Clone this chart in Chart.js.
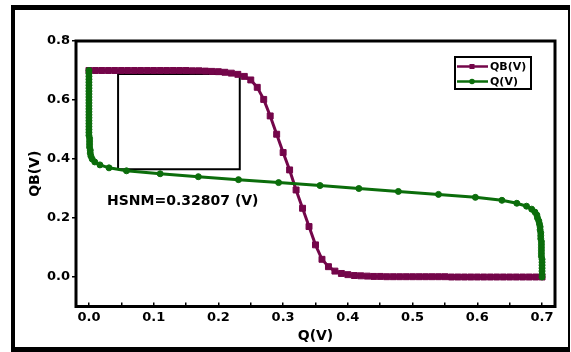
<!DOCTYPE html>
<html>
<head>
<meta charset="utf-8">
<script src="https://cdn.jsdelivr.net/npm/chart.js@4.4.0/dist/chart.umd.min.js"></script>
<style>
  html, body { margin: 0; padding: 0; background: #fff; }
  #wrap { position: relative; width: 571px; height: 352px; }
  #frame {
    position: absolute; left: 11px; top: 5px; width: 559px; height: 347px;
    box-sizing: border-box; pointer-events: none;
    border-left: 4px solid #000; border-top: 5px solid #000;
    border-right: 2px solid #000; border-bottom: 5px solid #000;
  }
</style>
</head>
<body>
<div id="wrap">
  <canvas id="vtcChart" width="571" height="352"></canvas>
  <div id="frame"></div>
</div>
<script>
// QB(V) curve: QB read at each Q step
const qbCurveQ = [
  0.00, 0.01, 0.02, 0.03, 0.04, 0.05, 0.06, 0.07, 0.08, 0.09,
  0.10, 0.11, 0.12, 0.13, 0.14, 0.15, 0.16, 0.17, 0.18, 0.19,
  0.20, 0.21, 0.22, 0.23, 0.24, 0.25, 0.26, 0.27, 0.28, 0.29,
  0.30, 0.31, 0.32, 0.33, 0.34, 0.35, 0.36, 0.37, 0.38, 0.39,
  0.40, 0.41, 0.42, 0.43, 0.44, 0.45, 0.46, 0.47, 0.48, 0.49,
  0.50, 0.51, 0.52, 0.53, 0.54, 0.55, 0.56, 0.57, 0.58, 0.59,
  0.60, 0.61, 0.62, 0.63, 0.64, 0.65, 0.66, 0.67, 0.68, 0.69,
  0.70
];
const qbCurveQB = [
  0.700, 0.700, 0.700, 0.700, 0.700, 0.700, 0.700, 0.700, 0.700, 0.700,
  0.700, 0.700, 0.700, 0.700, 0.700, 0.700, 0.699, 0.699, 0.698, 0.697,
  0.696, 0.694, 0.691, 0.687, 0.680, 0.668, 0.643, 0.602, 0.546, 0.484,
  0.422, 0.363, 0.295, 0.233, 0.171, 0.109, 0.060, 0.035, 0.020, 0.012,
  0.008, 0.005, 0.004, 0.003, 0.002, 0.002, 0.001, 0.001, 0.001, 0.001,
  0.001, 0.001, 0.001, 0.001, 0.001, 0.001, 0.000, 0.000, 0.000, 0.000,
  0.000, 0.000, 0.000, 0.000, 0.000, 0.000, 0.000, 0.000, 0.000, 0.000,
  0.000
];

// Q(V) curve: Q read at each QB step
const qCurveQB = [
  0.70, 0.69, 0.68, 0.67, 0.66, 0.65, 0.64, 0.63, 0.62, 0.61,
  0.60, 0.59, 0.58, 0.57, 0.56, 0.55, 0.54, 0.53, 0.52, 0.51,
  0.50, 0.49, 0.48, 0.47, 0.46, 0.45, 0.44, 0.43, 0.42, 0.41,
  0.40, 0.39, 0.38, 0.37, 0.36, 0.35, 0.34, 0.33, 0.32, 0.31,
  0.30, 0.29, 0.28, 0.27, 0.26, 0.25, 0.24, 0.23, 0.22, 0.21,
  0.20, 0.19, 0.18, 0.17, 0.16, 0.15, 0.14, 0.13, 0.12, 0.11,
  0.10, 0.09, 0.08, 0.07, 0.06, 0.05, 0.04, 0.03, 0.02, 0.01,
  0.00
];
const qCurveQ = [
  0.000, 0.000, 0.000, 0.000, 0.000, 0.000, 0.000, 0.000, 0.000, 0.000,
  0.000, 0.000, 0.000, 0.000, 0.000, 0.000, 0.000, 0.000, 0.000, 0.000,
  0.000, 0.000, 0.000, 0.001, 0.001, 0.001, 0.001, 0.002, 0.002, 0.003,
  0.005, 0.009, 0.017, 0.031, 0.058, 0.110, 0.169, 0.231, 0.293, 0.357,
  0.417, 0.478, 0.540, 0.597, 0.638, 0.661, 0.676, 0.684, 0.689, 0.692,
  0.693, 0.695, 0.696, 0.697, 0.697, 0.698, 0.698, 0.698, 0.699, 0.699,
  0.699, 0.699, 0.699, 0.699, 0.700, 0.700, 0.700, 0.700, 0.700, 0.700,
  0.700
];

// drawn square and note
const boxQ = [0.045, 0.233];
const boxQB = [0.365, 0.688];
const noteText = 'HSNM=0.32807 (V)';
const noteAt = [0.028, 0.255];

const xTicks = ['0.0', '0.1', '0.2', '0.3', '0.4', '0.5', '0.6', '0.7'];
const yTicks = ['0.0', '0.2', '0.4', '0.6', '0.8'];

const maroon = '#74064a';
const green = '#0b6d0b';
const fontFamily = '"DejaVu Sans", Verdana, sans-serif';

function toPoints(xs, ys) {
  return xs.map((v, i) => ({ x: v, y: ys[i] }));
}

const boxPath = [
  { x: boxQ[0], y: boxQB[0] }, { x: boxQ[1], y: boxQB[0] },
  { x: boxQ[1], y: boxQB[1] }, { x: boxQ[0], y: boxQB[1] },
  { x: boxQ[0], y: boxQB[0] }
];

const decor = {
  id: 'decor',
  afterDraw(chart) {
    const { ctx, chartArea: a, scales: { x, y } } = chart;
    ctx.save();

    // plot frame
    ctx.strokeStyle = '#000';
    ctx.lineWidth = 3;
    ctx.strokeRect(a.left, a.top, a.right - a.left, a.bottom - a.top);

    // note
    ctx.fillStyle = '#000';
    ctx.font = 'bold 14px ' + fontFamily;
    ctx.textBaseline = 'middle';
    ctx.textAlign = 'left';
    ctx.fillText(noteText, x.getPixelForValue(noteAt[0]), y.getPixelForValue(noteAt[1]));

    // legend
    const bx = a.right - 100, by = a.top + 16, bw = 76, bh = 32;
    ctx.lineWidth = 2;
    ctx.strokeRect(bx, by, bw, bh);
    const rows = [
      { text: 'QB(V)', color: maroon, square: true, y: by + 9.5 },
      { text: 'Q(V)', color: green, square: false, y: by + 24.5 }
    ];
    ctx.font = 'bold 11px ' + fontFamily;
    rows.forEach(r => {
      ctx.strokeStyle = r.color;
      ctx.fillStyle = r.color;
      ctx.lineWidth = 2.5;
      ctx.beginPath();
      ctx.moveTo(bx + 2, r.y);
      ctx.lineTo(bx + 33, r.y);
      ctx.stroke();
      if (r.square) {
        ctx.fillRect(bx + 14.5, r.y - 2.5, 5, 5);
      } else {
        ctx.beginPath();
        ctx.arc(bx + 17, r.y, 2.8, 0, Math.PI * 2);
        ctx.fill();
      }
      ctx.fillStyle = '#000';
      ctx.fillText(r.text, bx + 35, r.y + 0.5);
    });
    ctx.restore();
  }
};

const tickFont = { family: fontFamily, size: 13, weight: 'bold' };
const titleFont = { family: fontFamily, size: 14, weight: 'bold' };

function isMajor(v, step) {
  return Math.abs(v / step - Math.round(v / step)) < 1e-6;
}
function label(v) {
  return (Math.abs(v) < 1e-9 ? 0 : v).toFixed(1);
}

new Chart(document.getElementById('vtcChart').getContext('2d'), {
  type: 'scatter',
  data: {
    datasets: [
      {
        label: 'Q(V)',
        data: toPoints(qCurveQ, qCurveQB),
        showLine: true,
        borderColor: green,
        backgroundColor: green,
        borderWidth: 3,
        pointStyle: 'circle',
        pointRadius: 3,
        pointBorderWidth: 1
      },
      {
        label: 'QB(V)',
        data: toPoints(qbCurveQ, qbCurveQB),
        showLine: true,
        borderColor: maroon,
        backgroundColor: maroon,
        borderWidth: 3,
        pointStyle: 'rect',
        pointRadius: 4.2,
        pointBorderWidth: 1
      },
      {
        label: 'box',
        data: boxPath,
        showLine: true,
        borderColor: '#000',
        borderWidth: 2,
        pointRadius: 0
      }
    ]
  },
  options: {
    responsive: false,
    animation: false,
    layout: { padding: { left: 0, top: 41, right: 16, bottom: 0 } },
    plugins: {
      legend: { display: false },
      tooltip: { enabled: false }
    },
    scales: {
      x: {
        type: 'linear',
        min: -0.02,
        max: 0.72,
        afterFit(s) { s.height = 45.5; },
        border: { display: false },
        grid: { drawOnChartArea: false, tickLength: -4, color: '#000', lineWidth: 1.5 },
        ticks: {
          stepSize: 0.05,
          includeBounds: false,
          color: '#000',
          font: tickFont,
          padding: 7,
          maxRotation: 0,
          autoSkip: false,
          callback: v => isMajor(v, 0.1) && xTicks.includes(label(v)) ? label(v) : ''
        },
        title: { display: true, text: 'Q(V)', color: '#000', font: titleFont, padding: { top: 0, bottom: 7 } }
      },
      y: {
        type: 'linear',
        min: -0.1,
        max: 0.8,
        afterFit(s) { s.width = 76; },
        border: { display: false },
        grid: {
          drawOnChartArea: false,
          tickLength: 4,
          lineWidth: 1.5,
          color: c => (c.tick && isMajor(c.tick.value, 0.2)) ? '#000' : 'rgba(0,0,0,0)'
        },
        ticks: {
          stepSize: 0.1,
          color: '#000',
          font: tickFont,
          padding: 2,
          autoSkip: false,
          callback: v => isMajor(v, 0.2) && yTicks.includes(label(v)) ? label(v) : ''
        },
        title: { display: true, text: 'QB(V)', color: '#000', font: titleFont, padding: { top: 26.6, bottom: 0 } }
      }
    }
  },
  plugins: [decor]
});
</script>
</body>
</html>
